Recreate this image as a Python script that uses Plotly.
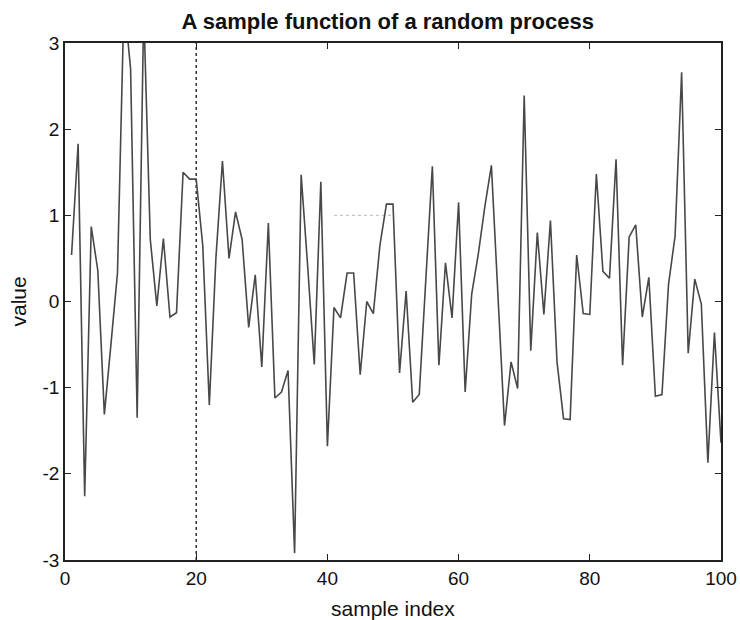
import plotly.graph_objects as go

# sample indices 1..100
sample_index = list(range(1, 101))

# values
values = [
    0.54, 1.83, -2.26, 0.87, 0.36, -1.31, -0.50, 0.33, 3.50, 2.70,
    -1.35, 3.40, 0.72, -0.05, 0.73, -0.18, -0.13, 1.50, 1.42, 1.42,
    0.65, -1.20, 0.50, 1.63, 0.50, 1.04, 0.72, -0.30, 0.31, -0.76,
    0.91, -1.12, -1.05, -0.80, -2.92, 1.47, 0.40, -0.73, 1.39, -1.68,
    -0.07, -0.19, 0.33, 0.33, -0.85, 0.00, -0.14, 0.65, 1.13, 1.13,
    -0.83, 0.12, -1.17, -1.08, 0.25, 1.57, -0.74, 0.45, -0.19, 1.15,
    -1.05, 0.09, 0.55, 1.10, 1.58, 0.15, -1.44, -0.70, -1.01, 2.39,
    -0.57, 0.80, -0.15, 0.94, -0.70, -1.36, -1.37, 0.54, -0.14, -0.15,
    1.48, 0.35, 0.27, 1.65, -0.74, 0.75, 0.89, -0.18, 0.28, -1.10,
    -1.08, 0.20, 0.76, 2.66, -0.60, 0.26, -0.03, -1.87, -0.36, -1.64,
]

# vertical reference marker and faint level fragment
marker_index = 20
level_value = 1
level_span = [41, 50]

x_ticks = [0, 20, 40, 60, 80, 100]
y_ticks = [-3, -2, -1, 0, 1, 2, 3]
x_range = [0, 100]
y_range = [-3, 3]

title_text = "A sample function of a random process"
x_label = "sample index"
y_label = "value"

FONT = "Liberation Sans, Arial, Helvetica, sans-serif"

fig = go.Figure()

fig.add_trace(go.Scatter(
    x=level_span, y=[level_value] * len(level_span), mode="lines",
    line=dict(color="#b8b8b8", width=1, dash="dot"),
    hoverinfo="skip", showlegend=False,
))

fig.add_trace(go.Scatter(
    x=[marker_index, marker_index], y=y_range, mode="lines",
    line=dict(color="#111111", width=1.3, dash="dot"),
    hoverinfo="skip", showlegend=False,
))

fig.add_trace(go.Scatter(
    x=sample_index, y=values, mode="lines",
    line=dict(color="#484848", width=1.6),
    showlegend=False,
))

fig.update_layout(
    width=740, height=620,
    paper_bgcolor="white", plot_bgcolor="white",
    margin=dict(l=65, r=19, t=43, b=60, autoexpand=False),
    font=dict(family=FONT, size=19, color="#111111"),
    title=dict(
        text="<b>" + title_text + "</b>",
        x=0.524, xanchor="center", y=0.966, yanchor="middle",
        yref="container", xref="container",
        font=dict(family=FONT, size=22, color="#111111"),
    ),
    annotations=[
        dict(text=x_label, xref="paper", yref="paper", x=0.5, y=0,
             xanchor="center", yanchor="middle", yshift=-48, showarrow=False,
             font=dict(family=FONT, size=21, color="#111111")),
        dict(text=y_label, xref="paper", yref="paper", x=0, y=0.5,
             xanchor="center", yanchor="middle", xshift=-47, textangle=-90,
             showarrow=False,
             font=dict(family=FONT, size=21, color="#111111")),
    ],
)

axis_common = dict(
    showline=True, linecolor="#222222", linewidth=1.6, mirror="ticks",
    ticks="inside", ticklen=6, tickwidth=1.2, tickcolor="#222222",
    showgrid=False, zeroline=False, automargin=False,
    tickfont=dict(family=FONT, size=19, color="#111111"),
)

fig.update_xaxes(
    range=x_range, tickvals=x_ticks, ticktext=[str(v) for v in x_ticks],
    **axis_common,
)
fig.update_yaxes(
    range=y_range, tickvals=y_ticks, ticktext=[str(v) for v in y_ticks],
    **axis_common,
)

fig.write_html(
    "out.html",
    config={"displayModeBar": False},
    post_script="document.body.style.margin='0';document.body.style.padding='0';",
)
